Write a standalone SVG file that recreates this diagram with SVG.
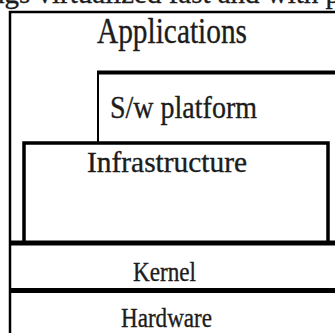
<svg xmlns="http://www.w3.org/2000/svg" width="335" height="333" viewBox="0 0 335 333">
<style>
.ln{stroke:#000;fill:none;stroke-linecap:butt}
.t{font-family:"Liberation Serif","Times New Roman",serif;fill:#1c1c1c;stroke:#1c1c1c;stroke-width:0.35}
</style>
<rect width="335" height="333" fill="#fff"/>
<text class="t" x="-18" y="3" font-size="29" textLength="358" lengthAdjust="spacingAndGlyphs">ings virtualized fast and with p</text>
<g id="applications">
<path class="ln" stroke-width="2.5" d="M10,333 V12 H335"/>
<text class="t" x="97" y="43" font-size="36" textLength="150" lengthAdjust="spacingAndGlyphs">Applications</text>
</g>
<g id="sw-platform">
<path class="ln" stroke-width="2" d="M98,142 V72"/>
<path class="ln" stroke-width="4" d="M97,72.5 H335"/>
<text class="t" x="110" y="118" font-size="32" textLength="147" lengthAdjust="spacingAndGlyphs">S/w platform</text>
</g>
<g id="infrastructure">
<path class="ln" stroke-width="3.5" d="M24,243 V143 H328 V243"/>
<text class="t" x="87" y="172" font-size="30" textLength="160" lengthAdjust="spacingAndGlyphs">Infrastructure</text>
</g>
<g id="kernel">
<path class="ln" stroke-width="5" d="M10,243 H335"/>
<text class="t" x="133" y="281" font-size="27" textLength="63" lengthAdjust="spacingAndGlyphs">Kernel</text>
</g>
<g id="hardware">
<path class="ln" stroke-width="5" d="M10,290.5 H335"/>
<text class="t" x="121" y="327" font-size="27" textLength="91" lengthAdjust="spacingAndGlyphs">Hardware</text>
</g>
<g id="connectors"/>
</svg>
